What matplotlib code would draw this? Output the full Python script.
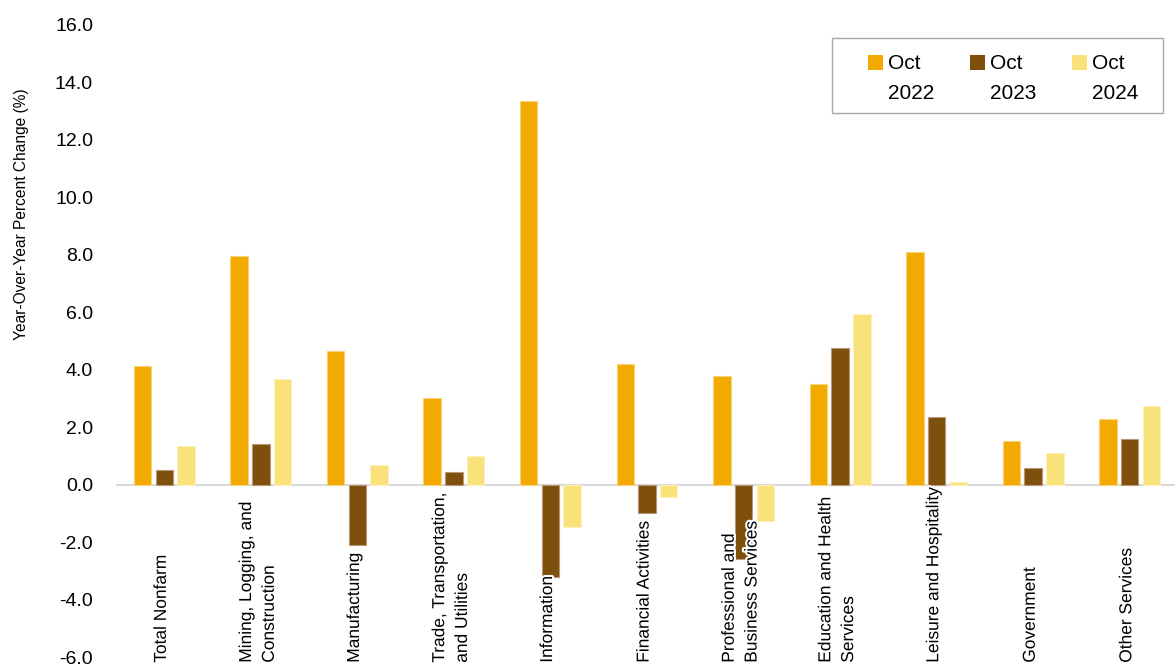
import matplotlib
matplotlib.use("Agg")
import matplotlib.pyplot as plt
import matplotlib.patheffects as pe
import matplotlib.patches as mpatches
from matplotlib.legend_handler import HandlerPatch
import numpy as np

categories = [
    "Total Nonfarm",
    "Mining, Logging, and\nConstruction",
    "Manufacturing",
    "Trade, Transportation,\nand Utilities",
    "Information",
    "Financial Activities",
    "Professional and\nBusiness Services",
    "Education and Health\nServices",
    "Leisure and Hospitality",
    "Government",
    "Other Services",
]
series_names = ["Oct\n2022", "Oct\n2023", "Oct\n2024"]
oct_2022 = [4.12, 7.96, 4.65, 3.00, 13.35, 4.21, 3.78, 3.50, 8.10, 1.52, 2.27]
oct_2023 = [0.51, 1.42, -2.10, 0.44, -3.22, -0.98, -2.58, 4.74, 2.34, 0.59, 1.59]
oct_2024 = [1.35, 3.69, 0.68, 1.00, -1.49, -0.44, -1.27, 5.95, 0.10, 1.10, 2.72]
yticks = [-6, -4, -2, 0, 2, 4, 6, 8, 10, 12, 14, 16]

colors = ["#F2AA00", "#7E500C", "#F9E27A"]
edges = ["#F8D37A", "#B89878", "#FCF0BC"]

FONT = "Liberation Sans"
plt.rcParams["font.family"] = [FONT, "DejaVu Sans"]

W, H = 1175, 667
fig = plt.figure(figsize=(W / 100, H / 100), dpi=100)
ax = fig.add_axes([116 / W, (H - 657) / H, (1178 - 116) / W, (657 - 24.7) / H])

x = np.arange(len(categories))
width = 0.18
offsets = [-0.225, 0.0, 0.225]
for vals, off, c, ec, name in zip([oct_2022, oct_2023, oct_2024], offsets, colors, edges, series_names):
    ax.bar(x + off, vals, width, color=c, edgecolor=ec, linewidth=0.8, label=name, zorder=2)

ax.axhline(0, color="#D9D9D9", lw=1.5, zorder=1)
ax.set_xlim(-0.5, len(categories) - 0.5)
ax.set_ylim(-6, 16)
ax.set_yticks(yticks)
ax.set_yticklabels([f"{v:.1f}" for v in yticks], fontsize=14)
ax.tick_params(axis="y", length=0, pad=16.5)
ax.set_xticks([])
for s in ax.spines.values():
    s.set_visible(False)

fig.text(22 / W, 1 - 214 / H, "Year-Over-Year Percent Change (%)", rotation=90,
         ha="center", va="center", fontsize=11.2)

for i, lab in enumerate(categories):
    ax.text(i - 0.03, -6.2, lab, rotation=90, ha="center", va="bottom",
            multialignment="left", fontsize=12.5, zorder=5, linespacing=1.65,
            path_effects=[pe.withStroke(linewidth=3, foreground="white")])

# legend with squares aligned to the first text line
def top_square(legend, orig_handle, xdescent, ydescent, width, height, fontsize):
    return mpatches.Rectangle((-xdescent, -ydescent + 0.78 * fontsize), width, width)

proxies = [mpatches.Patch(facecolor=c, edgecolor="none", label=n) for c, n in zip(colors, series_names)]
leg = fig.legend(handles=proxies, loc="upper left", bbox_to_anchor=(868 / W, 1 - 54 / H),
                 ncol=3, frameon=False, prop={"size": 15},
                 handlelength=0.72, handleheight=0.72, handletextpad=0.25, columnspacing=1.7,
                 borderpad=0, borderaxespad=0,
                 handler_map={mpatches.Patch: HandlerPatch(patch_func=top_square)})
for t in leg.get_texts():
    t.set_linespacing(1.75)

fig.patches.append(mpatches.Rectangle((832 / W, 1 - 113 / H), (1163 - 832) / W, (113 - 38) / H,
                                      transform=fig.transFigure, fill=False,
                                      edgecolor="#A6A6A6", linewidth=1.0))

fig.savefig("out.png", dpi=100)
